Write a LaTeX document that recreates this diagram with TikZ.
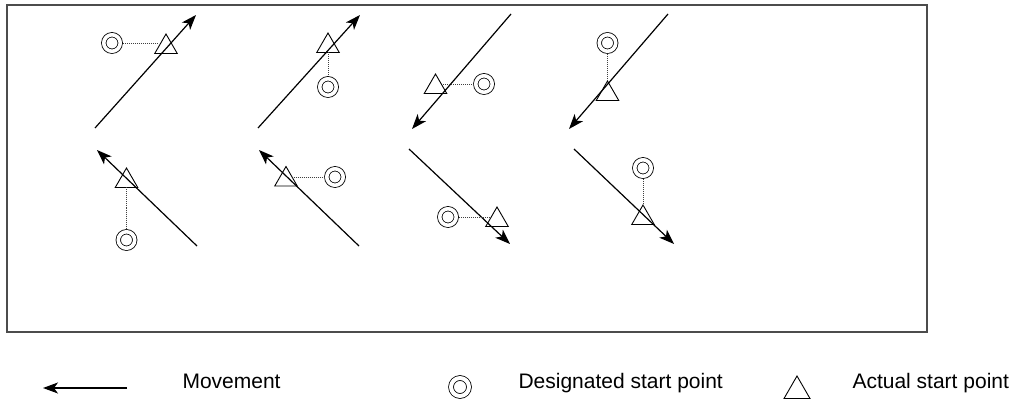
\documentclass[tikz,border=0pt]{standalone}
\usepackage{fontspec}
\setmainfont{Liberation Sans}
\usetikzlibrary{arrows.meta,shapes.geometric}
\begin{document}
\begin{tikzpicture}[x=1pt,y=-1pt,
  mv/.style={line width=1.2pt,-{Stealth[length=15pt,width=11pt,inset=4pt]}},
  dsp/.style={circle,draw,line width=0.8pt,double,double distance=3.6pt,minimum size=16.5pt,inner sep=0pt,outer sep=2.6pt},
  asp/.style={regular polygon,regular polygon sides=3,draw,line width=0.9pt,minimum size=26pt,inner sep=0pt,outer sep=0pt},
  dotline/.style={line width=0.8pt,dash pattern=on 1pt off 1pt,black!75},
  frame/.style={draw=black!70,line width=1.3pt},
  lbl/.style={anchor=base west,font=\fontsize{21}{25}\selectfont}]
\useasboundingbox (0,0) rectangle (1017,403);
\draw[frame] (7,5) rectangle (927,332);

% panel 1
\coordinate (a1s) at (95,128); \coordinate (a1e) at (196,15);
\draw[mv] (a1s) -- (a1e);
\node[asp] (t1) at (166,47) {};
\node[dsp] (c1) at (112,43) {};
\draw[dotline] (c1.east) -- (c1.east -| t1.west);

% panel 2
\coordinate (a2s) at (258,128); \coordinate (a2e) at (360,15);
\draw[mv] (a2s) -- (a2e);
\node[asp] (t2) at (328,46) {};
\node[dsp] (c2) at (328,87) {};
\draw[dotline] (t2.south) -- (c2.north);

% panel 3
\coordinate (a3s) at (511,14); \coordinate (a3e) at (412,129);
\draw[mv] (a3s) -- (a3e);
\node[asp] (t3) at (435.5,87) {};
\node[dsp] (c3) at (484,84) {};
\draw[dotline] (c3.west -| t3.east) -- (c3.west);

% panel 4
\coordinate (a4s) at (668,14); \coordinate (a4e) at (569,129);
\draw[mv] (a4s) -- (a4e);
\node[asp] (t4) at (607.5,94) {};
\node[dsp] (c4) at (607.5,43) {};
\draw[dotline] (c4.south) -- (t4.north);

% panel 5
\coordinate (a5s) at (197,246); \coordinate (a5e) at (97,150);
\draw[mv] (a5s) -- (a5e);
\node[asp] (t5) at (126.5,181) {};
\node[dsp] (c5) at (126.5,240) {};
\draw[dotline] (t5.south) -- (c5.north);

% panel 6
\coordinate (a6s) at (359,246); \coordinate (a6e) at (259,150);
\draw[mv] (a6s) -- (a6e);
\node[asp] (t6) at (286,179.5) {};
\node[dsp] (c6) at (335,177) {};
\draw[dotline] (c6.west -| t6.east) -- (c6.west);

% panel 7
\coordinate (a7s) at (409,149); \coordinate (a7e) at (510,244);
\draw[mv] (a7s) -- (a7e);
\node[asp] (t7) at (497,220) {};
\node[dsp] (c7) at (448,217) {};
\draw[dotline] (c7.east) -- (c7.east -| t7.west);

% panel 8
\coordinate (a8s) at (574,149); \coordinate (a8e) at (674,244);
\draw[mv] (a8s) -- (a8e);
\node[asp] (t8) at (643,218) {};
\node[dsp] (c8) at (643,168) {};
\draw[dotline] (c8.south) -- (t8.north);

% legend
\coordinate (lgs) at (127,388); \coordinate (lge) at (43,388);
\draw[mv] (lgs) -- (lge);
\node[lbl] (lm) at (179,388) {Movement};
\node[dsp,minimum size=18pt,double distance=4pt] (lc) at (460,387) {};
\node[lbl] (ld) at (515,388) {Designated start point};
\node[asp,minimum size=30pt] (lt) at (797,391) {};
\node[lbl] (la) at (849,388) {Actual start point};
\end{tikzpicture}
\end{document}
